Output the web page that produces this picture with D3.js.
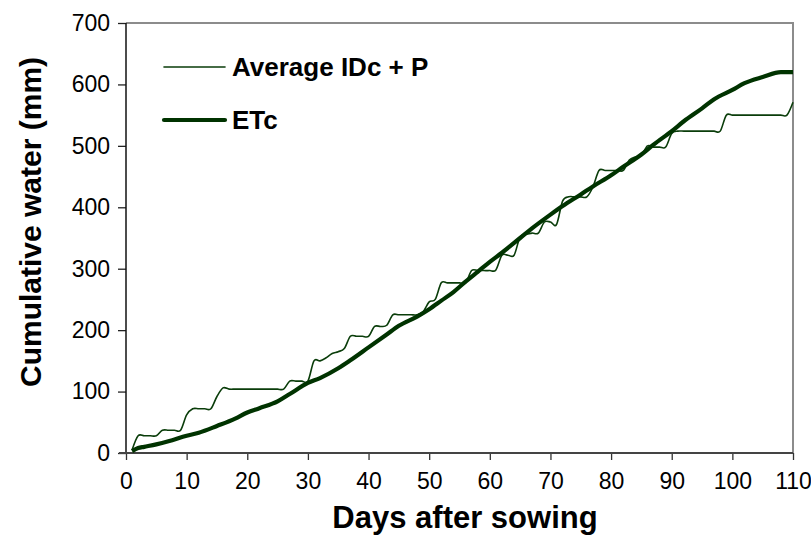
<!DOCTYPE html>
<html>
<head>
<meta charset="utf-8">
<script src="https://cdn.jsdelivr.net/npm/d3@7"></script>
<style>
  body { margin: 0; background: #fff; }
  svg text { font-family: "Liberation Sans", Arial, sans-serif; }
</style>
</head>
<body>
<div id="chart"></div>
<script>
// cumulative irrigation + rain, one value per day (day 1..110)
var avgDays = d3.range(1, 111);
var avgValues = [
    5, 28, 28, 28, 28, 37, 37, 37, 37, 62,
    72, 72, 72, 72, 92, 106, 104, 104, 104, 104,
    104, 104, 104, 104, 104, 104, 117, 117, 117, 117,
    150, 150, 155, 162, 165, 170, 190, 190, 190, 190,
    206, 206, 208, 225, 225, 225, 225, 225, 230, 246,
    250, 277, 277, 277, 277, 277, 297, 297, 297, 297,
    298, 322, 322, 322, 352, 356, 358, 358, 376, 376,
    372, 410, 417, 417, 417, 417, 433, 460, 460, 460,
    460, 460, 477, 482, 485, 500, 498, 498, 498, 520,
    524, 524, 524, 524, 524, 524, 524, 524, 550, 550,
    550, 550, 550, 550, 550, 550, 550, 550, 550, 571
];

// crop evapotranspiration read at selected days
var etcDays = [1, 2, 3, 5, 7, 10, 12, 15, 18, 20, 22, 25, 27, 30, 32, 35, 37, 40, 43, 45,
    48, 50, 52, 54, 56, 58, 60, 62, 65, 67, 70, 72, 75, 77, 80, 82, 85, 87, 90, 92,
    95, 97, 100, 102, 105, 108, 110];
var etcValues = [3, 8, 10, 14, 19, 28, 33, 44, 56, 66, 73, 84, 96, 114, 122, 138, 151, 172, 193, 207,
    222, 234, 248, 262, 279, 295, 311, 326, 350, 366, 388, 402, 421, 434, 452, 466, 486, 502, 524, 540,
    561, 576, 591, 602, 612, 620, 620];

var xTicks = d3.range(0, 111, 10);
var yTicks = d3.range(0, 701, 100);

var seriesNames = ["Average IDc + P", "ETc"];

var width = 811, height = 538;
var m = { left: 126, right: 18, top: 23, bottom: 85 };
var lineColor = "#0a3d0a";

var svg = d3.select("#chart").append("svg")
    .attr("width", width)
    .attr("height", height);

var x = d3.scaleLinear()
    .domain([0, 110])
    .range([m.left, width - m.right]);

var y = d3.scaleLinear()
    .domain([0, 700])
    .range([height - m.bottom, m.top]);

// plot frame (grey top and right edges)
svg.append("path")
    .attr("d", "M" + x(0) + "," + y(700) + "H" + x(110) + "V" + y(0))
    .attr("fill", "none")
    .attr("stroke", "#8c8c8c")
    .attr("stroke-width", 2);

// y axis
var yAxis = svg.append("g")
    .attr("transform", "translate(" + x(0) + ",0)")
    .call(d3.axisLeft(y).tickValues(yTicks).tickSize(8).tickPadding(8));
yAxis.select(".domain").remove();
yAxis.selectAll("line").attr("stroke", "#222").attr("stroke-width", 1.3);
yAxis.selectAll("text")
    .attr("fill", "#000")
    .style("font-size", "23px");

// x axis
var xAxis = svg.append("g")
    .attr("transform", "translate(0," + y(0) + ")")
    .call(d3.axisBottom(x).tickValues(xTicks).tickSize(7).tickPadding(13));
xAxis.select(".domain").remove();
xAxis.selectAll("line").attr("stroke", "#333").attr("stroke-width", 1.3);
xAxis.selectAll("text")
    .attr("fill", "#000")
    .style("font-size", "23px");

svg.append("line")
    .attr("x1", x(0)).attr("x2", x(0))
    .attr("y1", y(700)).attr("y2", y(0))
    .attr("stroke", "#111").attr("stroke-width", 1.5);

svg.append("line")
    .attr("x1", x(0) - 7).attr("x2", x(110))
    .attr("y1", y(0)).attr("y2", y(0))
    .attr("stroke", "#444").attr("stroke-width", 2);

// lines
var avgLine = d3.line()
    .x(function (d, i) { return x(avgDays[i]); })
    .y(function (d) { return y(d); })
    .curve(d3.curveCatmullRom.alpha(0));

var etcLine = d3.line()
    .x(function (d, i) { return x(etcDays[i]); })
    .y(function (d) { return y(d); })
    .curve(d3.curveMonotoneX);

svg.append("path")
    .datum(avgValues)
    .attr("d", avgLine)
    .attr("fill", "none")
    .attr("stroke", lineColor)
    .attr("stroke-width", 1.6);

svg.append("path")
    .datum(etcValues)
    .attr("d", etcLine)
    .attr("fill", "none")
    .attr("stroke", "#003300")
    .attr("stroke-width", 4.2)
    .attr("stroke-linejoin", "round");

// legend
var legend = svg.append("g");
var legendRows = [
    { name: seriesNames[0], y: 67, w: 1.6, c: lineColor },
    { name: seriesNames[1], y: 120, w: 4.2, c: "#003300" }
];
legendRows.forEach(function (r) {
    legend.append("line")
        .attr("x1", 164).attr("x2", 225)
        .attr("y1", r.y).attr("y2", r.y)
        .attr("stroke", r.c)
        .attr("stroke-width", r.w)
        .attr("stroke-linecap", "round");
    legend.append("text")
        .attr("x", 232)
        .attr("y", r.y)
        .attr("dy", "0.35em")
        .style("font-size", "26px")
        .style("font-weight", "bold")
        .text(r.name);
});

// axis titles
svg.append("text")
    .attr("x", 465)
    .attr("y", 528)
    .attr("text-anchor", "middle")
    .style("font-size", "31px")
    .style("font-weight", "bold")
    .text("Days after sowing");

svg.append("text")
    .attr("transform", "translate(41,222) rotate(-90)")
    .attr("text-anchor", "middle")
    .style("font-size", "30px")
    .style("font-weight", "bold")
    .text("Cumulative water (mm)");
</script>
</body>
</html>
